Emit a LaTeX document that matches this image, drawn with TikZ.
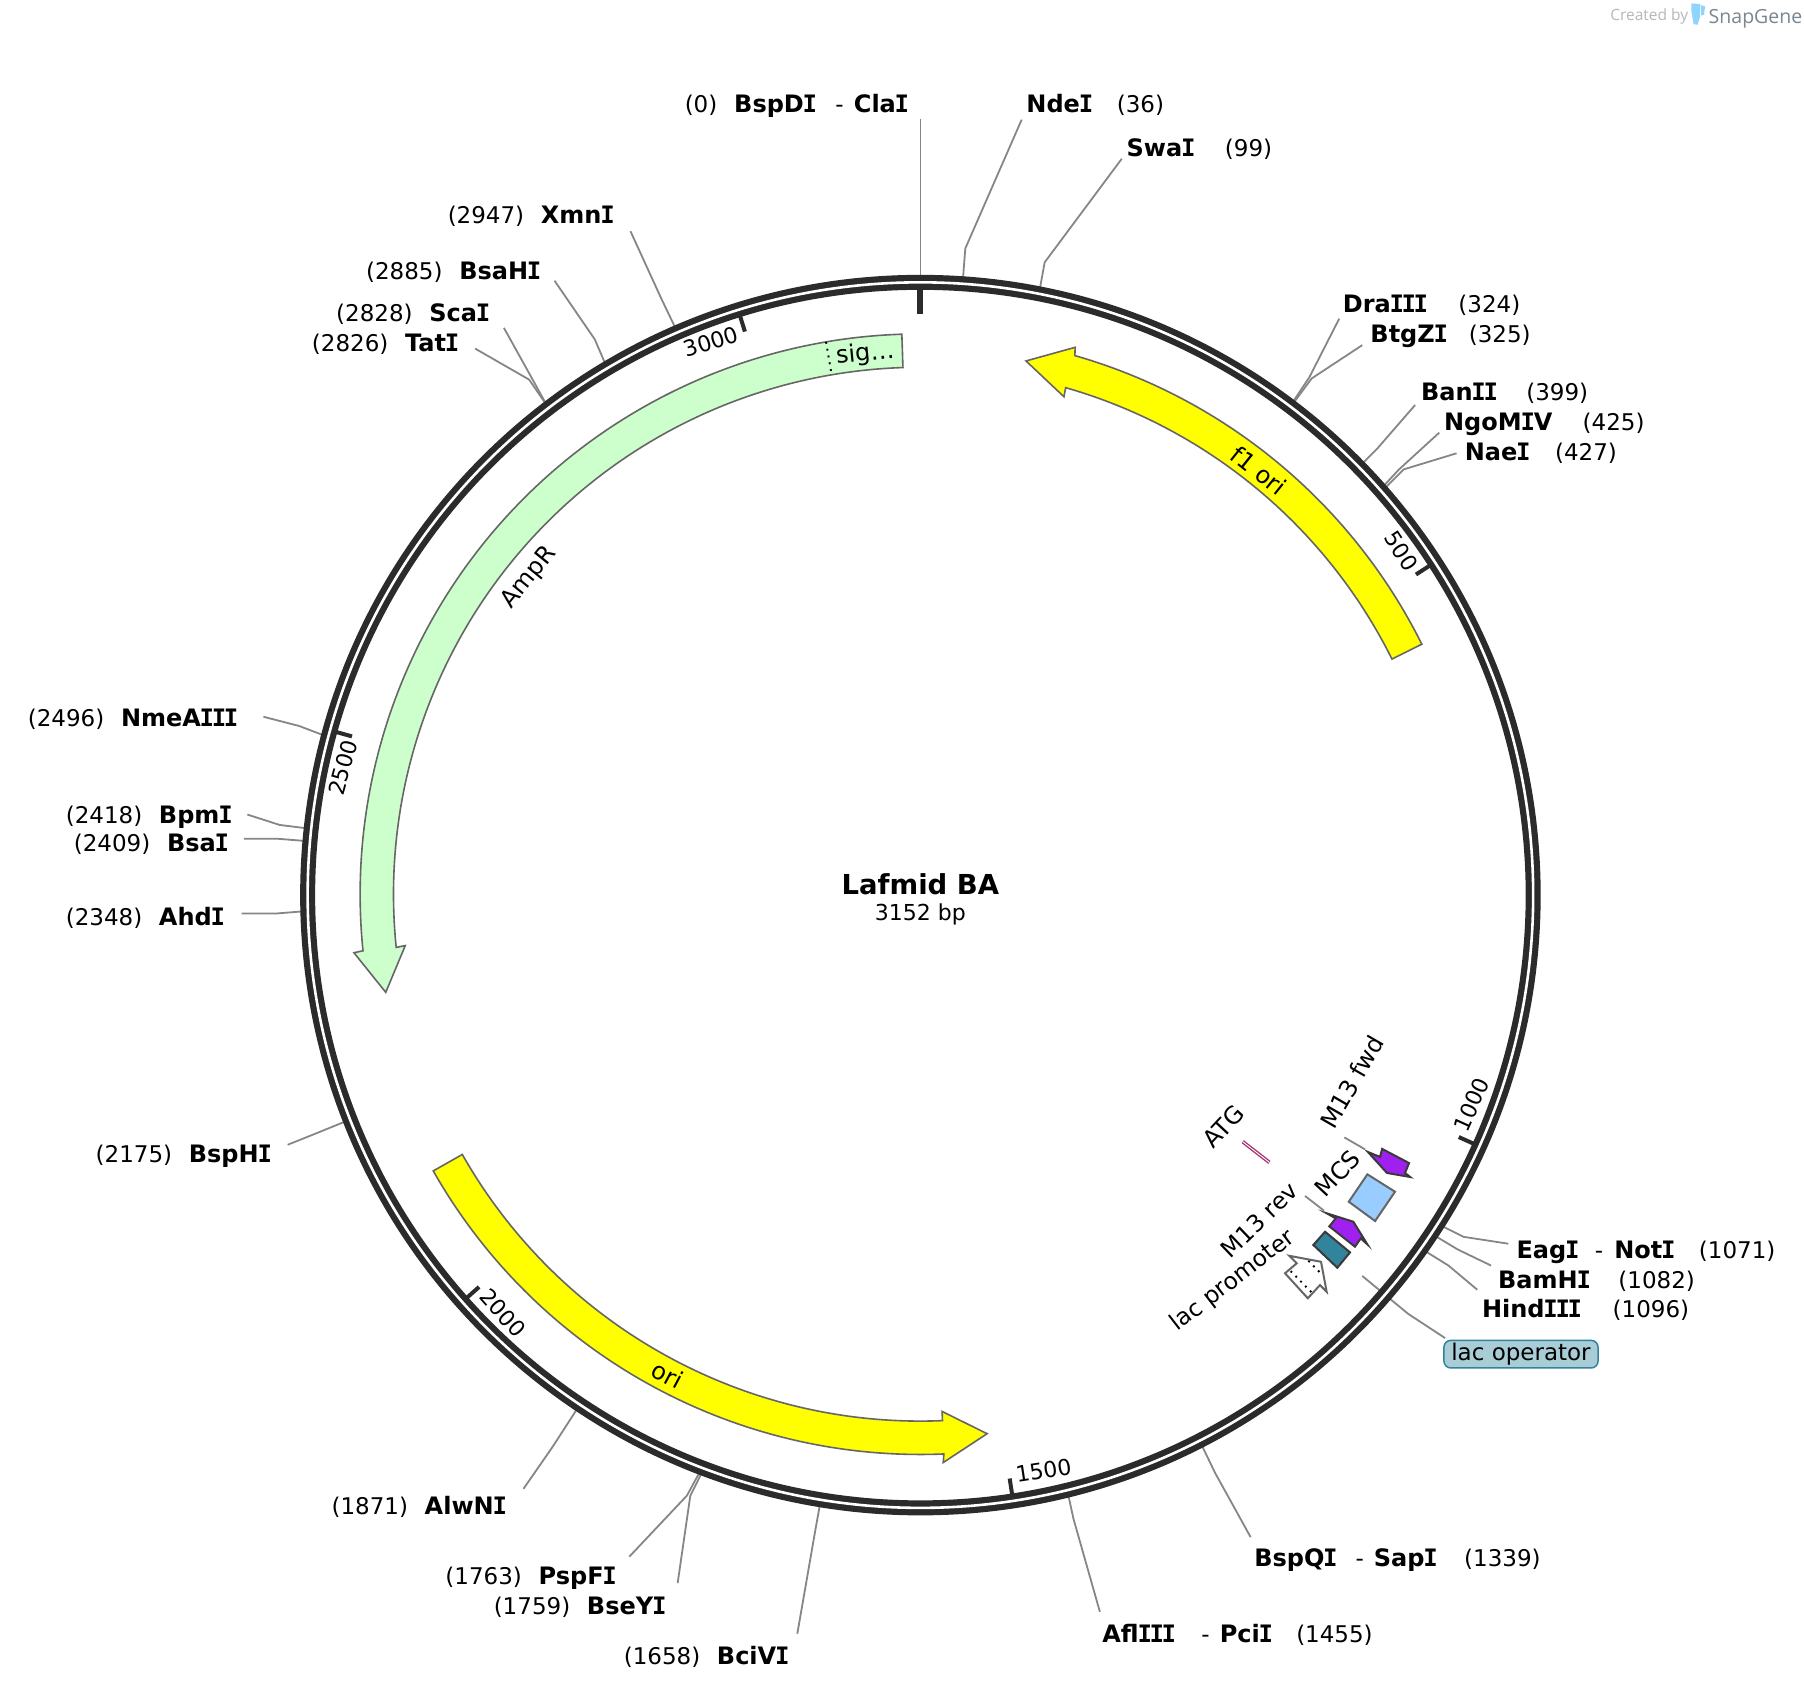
\documentclass[tikz,border=0pt]{standalone}
\usepackage{fontspec}
\setmainfont{DejaVu Sans}
\newfontfamily\logofont{Open Sans}
\newfontfamily\imono{DejaVu Sans Mono}
\newlength\pxu
\setlength\pxu{1.15051pt}
\definecolor{ringc}{HTML}{2B2B2B}
\definecolor{leadc}{HTML}{868686}
\definecolor{edgec}{HTML}{666666}
\definecolor{darkedge}{HTML}{3A3A3A}
\definecolor{ampc}{HTML}{CCFFCC}
\definecolor{yelc}{HTML}{FFFF00}
\definecolor{purp}{HTML}{A020F0}
\definecolor{mcsc}{HTML}{99CCFF}
\definecolor{tealc}{HTML}{31849B}
\definecolor{opfill}{HTML}{A9CDD7}
\definecolor{atgc}{HTML}{A6336F}
\definecolor{createdc}{HTML}{B4B8BC}
\definecolor{snapc}{HTML}{7A858F}
\definecolor{iconc}{HTML}{8FD3FE}
\newcommand\regfont{\fontsize{23}{27}\selectfont}
\newcommand\Ii{\kern-1.2pt{\imono I}\kern-1.2pt}
\newcommand\nmb[2]{\makebox[#1\pxu][l]{\fontsize{24}{27}\selectfont\bfseries #2}}
\newcommand\txb[2]{\makebox[#1\pxu][l]{#2}}
\newcommand\leftlab[2]{\kern-1\pxu\txb{81}{(#1)}\nmb{10}{#2}}
\newcommand\site[7]{%
  \node[lab] (l#1) at (#2,{#3+7.5}) {#4};
  \coordinate (r#1) at #5;
  \coordinate (k#1) at #6;
  \coordinate (e#1) at #7;
  \draw[leader] (r#1) -- (k#1) -- (e#1);
}
\newcommand\tickmark[1]{\draw[ticks] (-#1:513) -- (-#1:527);}
\tikzset{
  lab/.style={anchor=base west,inner sep=0pt,font=\regfont,text=black},
  leader/.style={draw=leadc,line width=1.8pt},
  ticks/.style={draw=ringc,line width=4pt},
  band/.style={draw=edgec,line width=1.6pt,line join=miter},
  rotlab/.style={inner sep=0pt,font=\fontsize{24}{27}\selectfont,text=black},
  ticklab/.style={inner sep=0pt,font=\fontsize{22}{26}\selectfont,text=black},
  small/.style={draw=edgec,line width=2pt,line join=miter},
  smalldark/.style={draw=darkedge,line width=2pt,line join=miter},
  dots/.style={black,line width=1.9pt,dash pattern=on 1.9pt off 5pt},
}
\begin{document}
\begin{tikzpicture}[x=1.15051pt,y=-1.15051pt]
\useasboundingbox (0,0) rectangle (1568,1470.67);
\fill[white] (0,0) rectangle (1568,1470.67);

% logo
\node[inner sep=0pt,anchor=base west,text=createdc,font=\logofont\fontsize{15.5}{18}\selectfont] (created) at (1399.5,18) {Created by};
\node[inner sep=0pt,anchor=base west,text=snapc,font=\logofont\fontsize{19.5}{22}\selectfont] (snapgene) at (1485,20) {SnapGene};
\fill[iconc] (1470,3) -- (1478,3.5) -- (1477.5,15) -- (1475.5,21.5) -- (1472,21) -- (1470,9) -- cycle;
\fill[iconc] (1478.5,4.5) -- (1482,5.5) -- (1481,13) -- (1478.5,13.5) -- cycle;

% restriction sites
\site{a}{595}{90}{\txb{43}{(0)}\nmb{88}{BspD\Ii}\txb{16}{-}\nmb{10}{Cla\Ii}}{(800,240)}{(800,170)}{(800,103)}
\site{b}{892}{90}{\nmb{78.5}{Nde\Ii}(36)}{(837,242)}{(839,216)}{(888,104)}
\site{c}{979}{128.5}{\nmb{85.5}{Swa\Ii}(99)}{(904,250)}{(908,228)}{(975,138)}
\site{d}{390}{187}{\leftlab{2947}{Xmn\Ii}}{(587,285)}{(575,260)}{(548,201)}
\site{e}{319}{235}{\leftlab{2885}{BsaH\Ii}}{(526,316)}{(517,295)}{(482,244)}
\site{f}{293}{272}{\leftlab{2828}{Sca\Ii}}{(474,350)}{(463,330)}{(438,285)}
\site{g}{272}{298}{\leftlab{2826}{Tat\Ii}}{(475,352)}{(460,330)}{(413,303)}
\site{h}{1167}{264}{\nmb{100.5}{Dra\Ii\Ii\Ii}(324)}{(1122,352)}{(1138,328)}{(1164,277)}
\site{i}{1191}{290}{\nmb{85.5}{BtgZ\Ii}(325)}{(1123,352)}{(1140,329)}{(1184,300)}
\site{j}{1235}{341}{\nmb{91.5}{Ban\Ii\Ii}(399)}{(1183,404)}{(1197,390)}{(1230,352)}
\site{k}{1255}{367}{\nmb{120.5}{NgoM\Ii V}(425)}{(1203,422)}{(1216,408)}{(1251,376)}
\site{m}{1273}{393}{\nmb{78.5}{Nae\Ii}(427)}{(1204,424)}{(1220,408)}{(1266,394)}
\site{n}{25}{624}{\leftlab{2496}{NmeA\Ii\Ii\Ii}}{(281,639)}{(260,631)}{(229,623)}
\site{o}{58}{708}{\leftlab{2418}{Bpm\Ii}}{(267,720)}{(243,717)}{(215,708)}
\site{p}{65}{733}{\leftlab{2409}{Bsa\Ii}}{(266,731)}{(241,729)}{(212,729)}
\site{q}{58}{797}{\leftlab{2348}{Ahd\Ii}}{(265,792)}{(240,794)}{(210,794)}
\site{s}{84}{1003}{\leftlab{2175}{BspH\Ii}}{(302,974)}{(275,985)}{(250,995)}
\site{t}{289}{1309}{\leftlab{1871}{AlwN\Ii}}{(502,1224)}{(480,1258)}{(455,1294)}
\site{u}{388}{1370}{\leftlab{1763}{PspF\Ii}}{(609,1278)}{(597,1300)}{(547,1353)}
\site{v}{430}{1396}{\leftlab{1759}{BseY\Ii}}{(611,1278)}{(600,1300)}{(589,1376)}
\site{w}{543}{1439}{\leftlab{1658}{BciV\Ii}}{(713,1306)}{(709,1328)}{(693,1420)}
\site{x}{958}{1420}{\nmb{86}{Afl\Ii\Ii\Ii}\txb{16}{-}\nmb{66.5}{Pci\Ii}(1455)}{(928,1297)}{(933,1320)}{(956,1401)}
\site{y}{1090}{1354}{\nmb{88}{BspQ\Ii}\txb{16}{-}\nmb{78.5}{Sap\Ii}(1339)}{(1044,1255)}{(1056,1280)}{(1087,1336)}
\site{z}{1318}{1086}{\nmb{68}{Eag\Ii}\txb{17}{-}\nmb{73.5}{Not\Ii}(1071)}{(1252,1065)}{(1272,1075)}{(1311,1081)}
\site{aa}{1302}{1112}{\nmb{104.5}{BamH\Ii}(1082)}{(1247,1074)}{(1267,1086)}{(1296,1100)}
\site{ab}{1288}{1138}{\nmb{113.5}{Hind\Ii\Ii\Ii}(1096)}{(1238,1087)}{(1259,1100)}{(1284,1121)}

% lac operator label + leader
\node[inner sep=0pt,rounded corners=7pt,draw=tealc,fill=opfill,line width=1.5pt,
  minimum width=134\pxu,minimum height=24\pxu,font=\regfont] (oplab) at (1322,1177) {lac operator};
\coordinate (opa) at (1184,1109);
\coordinate (opb) at (1224,1142);
\coordinate (opc) at (1256,1163);
\draw[leader] (opa) -- (opb) -- (opc);

% plasmid ring
\begin{scope}[shift={(800,778)}]
  \draw[draw=ringc,line width=15pt] (0,0) circle[radius=532.6];
  \draw[draw=white,line width=2.6pt] (0,0) circle[radius=532.6];
  \draw[draw=ringc,line width=6pt] (-90:527) -- (-90:505.5);
  \tickmark{32.9}
  \tickmark{-24.2}
  \tickmark{-81.3}
  \tickmark{-138.4}
  \tickmark{-195.6}
  \tickmark{-252.7}
\end{scope}
\begin{scope}[shift={(800,777.2)}]
  % AmpR with signal
  \draw[band,fill=ampc] (-91.9:487) arc[start angle=-91.9,end angle=-185.8,radius=487]
     -- (-185.9:495) -- (-190.4:472.5) -- (-185.7:450) -- (-185.8:458)
     arc[start angle=-185.8,end angle=-91.9,radius=458] -- cycle;
  \draw[dots] (-99.7:487) -- (-99.7:458);

  % f1 ori
  \draw[band,fill=yelc] (-26.5:487) arc[start angle=-26.5,end angle=-74,radius=487]
     -- (-74.2:494) -- (-78.8:472.5) -- (-73.9:450) -- (-74:458)
     arc[start angle=-74,end angle=-26.5,radius=458] -- cycle;

  % ori
  \draw[band,fill=yelc] (-209.6:487) arc[start angle=-209.6,end angle=-272.4,radius=487]
     -- (-272.3:494.4) -- (-277.05:472.5) -- (-272.4:450) -- (-272.4:458)
     arc[start angle=-272.4,end angle=-209.6,radius=458] -- cycle;
\end{scope}

% small features
\draw[smalldark,fill=purp] (1189,1001.3) -- (1199.5,1005.6) -- (1201.3,998.6) -- (1224.7,1010.9) -- (1221.2,1019.5) -- (1225.6,1023) -- (1205.5,1019.5) -- cycle;
\draw[smalldark,fill=purp] (1153.2,1054.6) -- (1176.3,1061.9) -- (1188.5,1081.6) -- (1182.7,1076.4) -- (1177.7,1083.6) -- (1155.4,1065.9) -- (1161,1059) -- cycle;
\draw[small,fill=mcsc] (1188.5,1020.7) -- (1212.5,1035.8) -- (1195.2,1061.3) -- (1172.3,1044.5) -- cycle;
\draw[smalldark,fill=tealc] (1151.7,1070.6) -- (1173.4,1088.5) -- (1162.4,1101.9) -- (1141.5,1082.1) -- cycle;
\draw[small,fill=white] (1120.6,1091.5) -- (1127.1,1098) -- (1116.9,1106.7) -- (1136.7,1128.4) -- (1147.3,1117) -- (1153.1,1122.8) -- (1148.2,1096.7) -- cycle;
\draw[dots] (1137.2,1095.8) -- (1148.8,1107.6);
\draw[dots] (1121.8,1104.8) -- (1140,1123.3);
\draw[atgc,line width=3.6pt] (1080.1,992.3) -- (1103.3,1010.3);
\draw[white,line width=0.9pt] (1080.1,992.3) -- (1103.3,1010.3);

% small-feature labels
\node[rotlab,rotate=60] (m13f) at (1174.9,940.2) {M13 fwd};
\node[rotlab,rotate=47] (atg) at (1063.5,979) {ATG};
\node[rotlab,rotate=47] (mcs) at (1162.5,1019.9) {MCS};
\node[rotlab,rotate=43.7,font=\fontsize{23.6}{27}\selectfont] (m13r) at (1094.8,1060.4) {M13 rev};
\node[rotlab,rotate=37.6,font=\fontsize{23.4}{27}\selectfont] (lacp) at (1071.6,1113.5) {lac promoter};
\coordinate (fa) at (1168.5,988.6);
\coordinate (fb) at (1186.5,999);
\coordinate (ra) at (1134.3,1039.5);
\coordinate (rb) at (1150.8,1052.3);
\draw[leader] (fa) -- (fb);
\draw[leader] (ra) -- (rb);

% feature labels
\node[rotlab,rotate=51] (ampr) at (460,502) {AmpR};
\node[rotlab,rotate=-38.6] (f1) at (1094,409) {f1 ori};
\node[rotlab,rotate=-28] (ori) at (580,1195) {ori};
\node[rotlab,rotate=5.8] (sig) at (752,308) {sig…};

% tick labels
\node[ticklab,rotate=-57.1] (t500) at (1218,479) {500};
\node[ticklab,rotate=65.8] (t1000) at (1279,960) {1000};
\node[ticklab,rotate=8.7] (t1500) at (907,1278) {1500};
\node[ticklab,rotate=-48.4] (t2000) at (437,1141) {2000};
\node[ticklab,rotate=74.4] (t2500) at (298,667) {2500};
\node[ticklab,rotate=17.3] (t3000) at (618,297) {3000};

% title
\node[inner sep=0pt,font=\fontsize{27.5}{30}\selectfont\bfseries] (title) at (800,768.5) {Lafmid BA};
\node[inner sep=0pt,font=\fontsize{22}{26}\selectfont] (bp) at (800,795) {3152 bp};
\end{tikzpicture}
\end{document}
